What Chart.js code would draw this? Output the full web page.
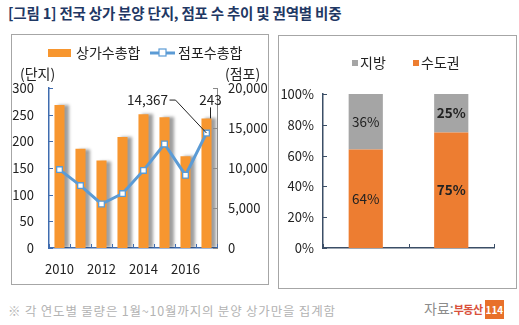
<!DOCTYPE html>
<html>
<head>
<meta charset="utf-8">
<script src="https://cdn.jsdelivr.net/npm/chart.js@4.4.0/dist/chart.umd.min.js"></script>
<style>
  body { margin: 0; background: #fff; width: 519px; height: 325px; position: relative; overflow: hidden;
         font-family: 'Noto Sans CJK KR', 'Noto Sans', sans-serif; }
  #title { position: absolute; left: 8px; top: 2px; font-size: 14.5px; font-weight: bold; color: #1f3864; letter-spacing: -0.2px; }
  .panel { position: absolute; border: 1px solid #a6a6a6; overflow: hidden; }
  #leftPanel { left: 11px; top: 34px; width: 256px; height: 249px; }
  #rightPanel { left: 278px; top: 35px; width: 237px; height: 252px; }
  .panel canvas { position: absolute; left: 0; top: 0; }
  #note { position: absolute; left: 8px; top: 301px; font-size: 12.5px; color: #b3b3b3; letter-spacing: 0.8px; }
  #source { position: absolute; left: 424px; top: 298px; font-size: 14px; color: #8c8c8c; }
  #source b { font-size: 11px; color: #d9503b; letter-spacing: -0.5px; }
  #source i { font-style: normal; font-size: 10px; font-weight: bold; color: #fff; background: #e8702a; padding: 2px 1px; margin-left: 2px; }
</style>
</head>
<body>
<div id="title">[그림 1] 전국 상가 분양 단지, 점포 수 추이 및 권역별 비중</div>
<div class="panel" id="leftPanel"><canvas id="chartTrend" width="255" height="248"></canvas></div>
<div class="panel" id="rightPanel"><canvas id="chartShare" width="236" height="251"></canvas></div>
<div id="note">※ 각 연도별 물량은 1월~10월까지의 분양 상가만을 집계함</div>
<div id="source">자료:<b>부동산</b><i>114</i></div>
<script>
'use strict';

// 연도별 상가 분양 단지 수 / 점포 수
const years = ['2010', '2011', '2012', '2013', '2014', '2015', '2016', '2017'];
const complexCounts = [268, 186, 164, 208, 251, 245, 172, 243];
const storeCounts = [9800, 7800, 5500, 6800, 9700, 13000, 9100, 14367];

// 권역별 비중 (%)
const shareGroups = ['단지', '점포'];
const capitalShare = [64, 75];
const provinceShare = [36, 25];

const FONT = "'Noto Sans CJK KR', 'Noto Sans', sans-serif";
Chart.defaults.font.family = FONT;
Chart.defaults.color = '#222';

// 축 안쪽으로 짧은 눈금 그리기
const innerTicks = {
  id: 'innerTicks',
  afterDraw(chart, args, opts) {
    const ctx = chart.ctx, area = chart.chartArea;
    ctx.save();
    ctx.lineWidth = 1;
    Object.values(chart.scales).forEach(function(scale) {
      const color = (opts.colors && opts.colors[scale.id]) || '#3f6caf';
      ctx.strokeStyle = color;
      ctx.beginPath();
      if (scale.axis === 'x') {
        const n = scale.getLabels().length;
        for (let k = 0; k <= n; k++) {
          const x = Math.round(area.left + k * (area.right - area.left) / n) + 0.5;
          ctx.moveTo(x, area.bottom); ctx.lineTo(x, area.bottom - 4);
        }
      } else {
        scale.ticks.forEach(function(t, i) {
          const y = Math.round(scale.getPixelForTick(i)) + 0.5;
          if (scale.position === 'left') { ctx.moveTo(area.left, y); ctx.lineTo(area.left + 4, y); }
          else { ctx.moveTo(area.right, y); ctx.lineTo(area.right - 4, y); }
        });
      }
      ctx.stroke();
    });
    ctx.restore();
  }
};

// 막대 그림자
const barShadow = {
  id: 'barShadow',
  beforeDatasetDraw(chart, args) {
    if (chart.data.datasets[args.index].type !== 'bar') return;
    const ctx = chart.ctx;
    ctx.save();
    ctx.shadowColor = 'rgba(0,0,0,0.38)';
    ctx.shadowOffsetX = 4;
    ctx.shadowOffsetY = 0;
    ctx.shadowBlur = 3;
  },
  afterDatasetDraw(chart, args) {
    if (chart.data.datasets[args.index].type !== 'bar') return;
    chart.ctx.restore();
  }
};

// 범례, 축 제목, 마지막 값 표시
const trendDecor = {
  id: 'trendDecor',
  afterDraw(chart) {
    const ctx = chart.ctx;
    ctx.save();
    ctx.font = '14px ' + FONT;
    ctx.textBaseline = 'middle';
    ctx.fillStyle = '#222';

    // legend
    ctx.fillStyle = '#f7962f';
    ctx.fillRect(36, 14, 23, 8);
    ctx.fillStyle = '#222';
    ctx.textAlign = 'left';
    ctx.fillText('상가수총합', 64, 18);
    ctx.strokeStyle = '#5b9bd5';
    ctx.lineWidth = 3;
    ctx.beginPath(); ctx.moveTo(138, 18); ctx.lineTo(163, 18); ctx.stroke();
    ctx.fillStyle = '#fff';
    ctx.lineWidth = 1.2;
    ctx.fillRect(147, 14, 7, 7); ctx.strokeRect(147, 14, 7, 7);
    ctx.fillStyle = '#222';
    ctx.fillText('점포수총합', 166, 18);

    // axis titles
    ctx.fillText('(단지)', 8, 39);
    ctx.fillText('(점포)', 213, 39);

    // last values
    const last = years.length - 1;
    const bar = chart.getDatasetMeta(0).data[last];
    const pt = chart.getDatasetMeta(1).data[last];
    ctx.font = '13.5px ' + FONT;
    ctx.textAlign = 'center';
    ctx.fillText(String(complexCounts[last]), bar.x + 4, bar.y - 19);
    ctx.fillText(storeCounts[last].toLocaleString('en-US'), pt.x - 59, pt.y - 33);
    ctx.strokeStyle = '#222';
    ctx.lineWidth = 1;
    ctx.beginPath();
    ctx.moveTo(bar.x + 4, bar.y - 11); ctx.lineTo(bar.x + 4, bar.y);
    ctx.moveTo(pt.x - 37, pt.y - 33); ctx.lineTo(pt.x - 31, pt.y - 33); ctx.lineTo(pt.x, pt.y);
    ctx.stroke();
    ctx.restore();
  }
};

new Chart(document.getElementById('chartTrend'), {
  data: {
    labels: years,
    datasets: [
      {
        type: 'bar',
        label: '상가수총합',
        data: complexCounts,
        yAxisID: 'y',
        backgroundColor: '#f7962f',
        barPercentage: 0.48,
        categoryPercentage: 1,
        order: 1
      },
      {
        type: 'line',
        label: '점포수총합',
        data: storeCounts,
        yAxisID: 'y2',
        borderColor: '#5b9bd5',
        borderWidth: 3,
        pointStyle: 'rect',
        pointRadius: 4,
        pointBorderWidth: 1.3,
        pointBackgroundColor: '#fff',
        pointBorderColor: '#5b9bd5',
        tension: 0,
        order: 0
      }
    ]
  },
  options: {
    responsive: false,
    animation: false,
    devicePixelRatio: 1,
    layout: { padding: { top: 53, left: 0, right: 0, bottom: 0 } },
    plugins: { legend: { display: false }, tooltip: { enabled: false },
      innerTicks: { colors: { x: '#3f6caf', y: '#3f6caf', y2: '#8a8a8a' } } },
    scales: {
      x: {
        offset: true,
        grid: { display: false },
        border: { color: '#3f6caf', width: 1.5 },
        ticks: {
          autoSkip: false, maxRotation: 0, padding: 5,
          font: { size: 13 }, color: '#222',
          callback: function(v, i) { return i % 2 === 0 ? years[i] : ''; }
        },
        afterFit: function(s) { s.height = 35; }
      },
      y: {
        position: 'left',
        min: 0, max: 300,
        grid: { display: false, drawTicks: false },
        border: { color: '#3f6caf', width: 1.5 },
        ticks: { stepSize: 50, padding: 15, font: { size: 13 }, color: '#222' },
        afterFit: function(s) { s.width = 37; }
      },
      y2: {
        position: 'right',
        min: 0, max: 20000,
        grid: { display: false, drawTicks: false },
        border: { color: '#8a8a8a', width: 1 },
        ticks: {
          stepSize: 5000, padding: 11, font: { size: 13 }, color: '#222',
          callback: function(v) { return v.toLocaleString('en-US'); }
        },
        afterFit: function(s) { s.width = 50; }
      }
    }
  },
  plugins: [innerTicks, barShadow, trendDecor]
});

// 막대 안 비중 표시와 범례
const shareDecor = {
  id: 'shareDecor',
  afterDraw(chart) {
    const ctx = chart.ctx;
    ctx.save();
    ctx.textBaseline = 'middle';
    ctx.textAlign = 'left';
    ctx.font = '14px ' + FONT;
    ctx.fillStyle = '#a5a5a5';
    ctx.fillRect(73, 24, 6, 6);
    ctx.fillStyle = '#222';
    ctx.fillText('지방', 81, 27);
    ctx.fillStyle = '#ed7d31';
    ctx.fillRect(134, 24, 6, 6);
    ctx.fillStyle = '#222';
    ctx.fillText('수도권', 142, 27);

    ctx.textAlign = 'center';
    chart.data.datasets.forEach(function(ds, di) {
      chart.getDatasetMeta(di).data.forEach(function(el, i) {
        const mid = (el.y + el.base) / 2;
        ctx.font = (i === 1 ? 'bold ' : '') + '13.5px ' + FONT;
        ctx.fillStyle = '#222';
        ctx.fillText(ds.data[i] + '%', el.x, mid);
      });
    });
    ctx.restore();
  }
};

new Chart(document.getElementById('chartShare'), {
  type: 'bar',
  data: {
    labels: shareGroups,
    datasets: [
      { label: '수도권', data: capitalShare, backgroundColor: '#ed7d31', barPercentage: 0.4, categoryPercentage: 1 },
      { label: '지방', data: provinceShare, backgroundColor: '#a5a5a5', barPercentage: 0.4, categoryPercentage: 1 }
    ]
  },
  options: {
    responsive: false,
    animation: false,
    devicePixelRatio: 1,
    layout: { padding: { top: 58, right: 21, left: 0, bottom: 0 } },
    plugins: { legend: { display: false }, tooltip: { enabled: false },
      innerTicks: { colors: { x: '#3b4e66', y: '#3b4e66' } } },
    scales: {
      x: {
        stacked: true,
        grid: { display: false },
        border: { color: '#3b4e66', width: 1.5 },
        ticks: { display: false },
        afterFit: function(s) { s.height = 39; }
      },
      y: {
        stacked: true,
        min: 0, max: 100,
        grid: { display: false, drawTicks: false },
        border: { color: '#3b4e66', width: 1.5 },
        ticks: { stepSize: 20, padding: 9, font: { size: 13 }, color: '#222',
          callback: function(v) { return v + '%'; } },
        afterFit: function(s) { s.width = 44; }
      }
    }
  },
  plugins: [innerTicks, shareDecor]
});
</script>
</body>
</html>
